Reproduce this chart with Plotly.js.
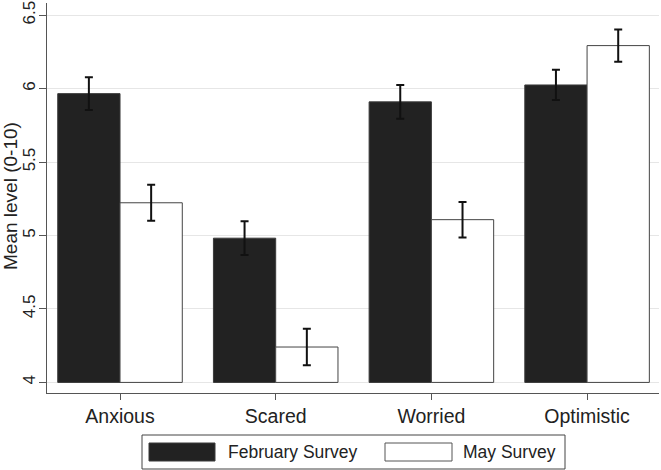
<!DOCTYPE html>
<html>
<head>
<meta charset="utf-8">
<script src="https://cdn.plot.ly/plotly-3.0.1.min.js"></script>
<style>html,body{margin:0;padding:0;background:#fff;}#chart{width:661px;height:470px;}</style>
</head>
<body>
<div id="chart"></div>
<script>
// Data
const categories = ["Anxious", "Scared", "Worried", "Optimistic"];
const februaryMeans = [5.966, 4.982, 5.910, 6.025];
const februaryErr = [0.112, 0.115, 0.115, 0.103];
const mayMeans = [5.223, 4.241, 5.108, 6.293];
const mayErr = [0.122, 0.124, 0.121, 0.110];
const seriesNames = ["February Survey", "May Survey"];
const yTicks = [4, 4.5, 5, 5.5, 6, 6.5];
const yTickText = ["4", "4.5", "5", "5.5", "6", "6.5"];

// Layout geometry (pixels)
const W = 661, H = 470;
const M = {l: 47, r: 2, t: 3, b: 77};
const plotW = W - M.l - M.r, plotH = H - M.t - M.b;
const px = x => (x - M.l) / plotW;
const py = y => (H - M.b - y) / plotH;

const FONT = "Liberation Sans, Arial, Helvetica, sans-serif";
const TXT = "#222";

const traces = [
  {
    type: "bar", name: seriesNames[0], x: categories, y: februaryMeans.map(v => v - 4), base: 4,
    marker: {color: "#222222", line: {color: "#3a3a3a", width: 1}},
    error_y: {type: "data", array: februaryErr, visible: true, color: "#111", thickness: 2, width: 4},
    showlegend: false, hoverinfo: "skip"
  },
  {
    type: "bar", name: seriesNames[1], x: categories, y: mayMeans.map(v => v - 4), base: 4,
    marker: {color: "#ffffff", line: {color: "#444", width: 1}},
    error_y: {type: "data", array: mayErr, visible: true, color: "#111", thickness: 2, width: 4},
    showlegend: false, hoverinfo: "skip"
  }
];

const shapes = [
  // legend frame
  {type: "rect", xref: "paper", yref: "paper", x0: px(142), x1: px(565), y0: py(469), y1: py(435),
   line: {color: "#444", width: 1}, fillcolor: "rgba(0,0,0,0)"},
  {type: "rect", xref: "paper", yref: "paper", x0: px(149), x1: px(215), y0: py(461), y1: py(443),
   line: {color: "#3a3a3a", width: 1}, fillcolor: "#222222"},
  {type: "rect", xref: "paper", yref: "paper", x0: px(385), x1: px(452), y0: py(461), y1: py(443),
   line: {color: "#555", width: 1}, fillcolor: "#ffffff"}
];

const annotations = [
  {xref: "paper", yref: "paper", x: px(226), y: py(452), text: seriesNames[0], showarrow: false,
   xanchor: "left", yanchor: "middle", font: {family: FONT, size: 17.5, color: TXT}},
  {xref: "paper", yref: "paper", x: px(461), y: py(452), text: seriesNames[1], showarrow: false,
   xanchor: "left", yanchor: "middle", font: {family: FONT, size: 17.5, color: TXT}},
  {xref: "paper", yref: "paper", x: px(10), y: py(196), text: "Mean level (0-10)", showarrow: false,
   textangle: -90, xanchor: "center", yanchor: "middle", font: {family: FONT, size: 19, color: TXT}}
];

const layout = {
  width: W, height: H,
  margin: M,
  paper_bgcolor: "#fff", plot_bgcolor: "#fff",
  barmode: "group", bargap: 0.2, bargroupgap: 0,
  showlegend: false,
  font: {family: FONT, color: TXT},
  xaxis: {
    type: "category", range: [-0.469, 3.462],
    showgrid: false, zeroline: false,
    showline: true, linecolor: "#555", linewidth: 1,
    ticks: "outside", ticklen: 6, tickcolor: "#555", tickwidth: 1,
    tickfont: {family: FONT, size: 19.5, color: TXT},
    fixedrange: true
  },
  yaxis: {
    range: [3.928, 6.583],
    tickvals: yTicks, ticktext: yTickText, tickangle: -90,
    ticklabeloverflow: "allow",
    ticklabelstandoff: -3,
    showgrid: true, gridcolor: "#e6e6e6", gridwidth: 1,
    zeroline: false,
    showline: true, linecolor: "#555", linewidth: 1,
    ticks: "outside", ticklen: 7, tickcolor: "#555", tickwidth: 1,
    tickfont: {family: FONT, size: 17, color: TXT},
    fixedrange: true
  },
  shapes: shapes,
  annotations: annotations
};

Plotly.newPlot("chart", traces, layout, {displayModeBar: false, staticPlot: true});
</script>
</body>
</html>
